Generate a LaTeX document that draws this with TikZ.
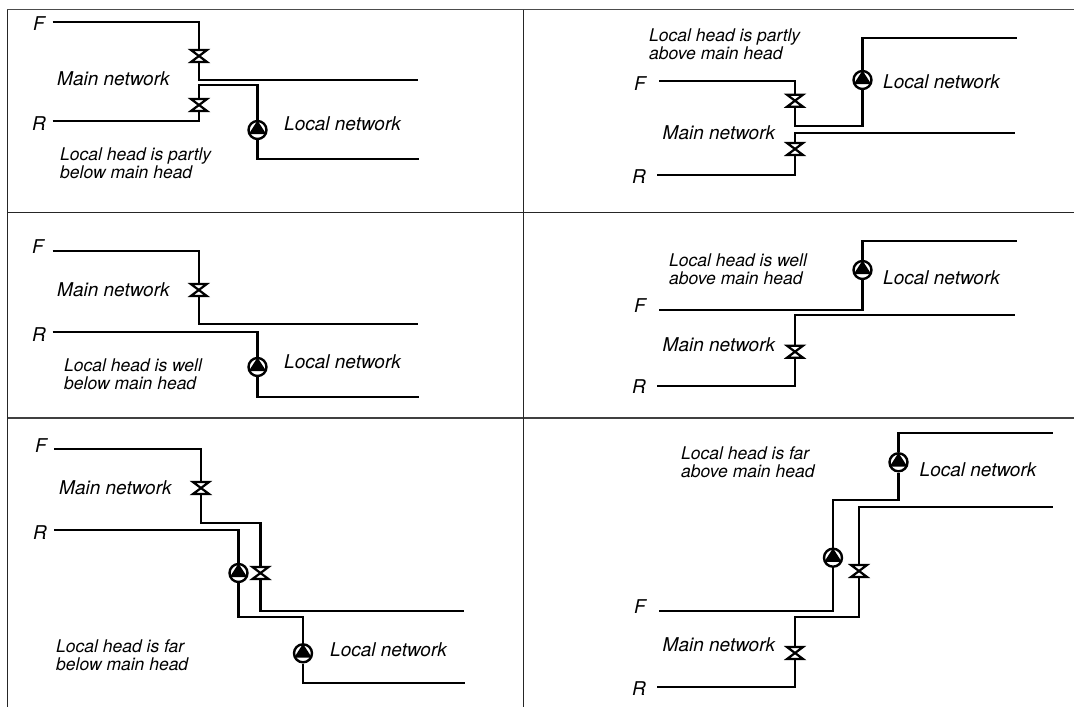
\documentclass[tikz,border=0pt]{standalone}
\usepackage{fontspec}
\setmainfont{TeX Gyre Heros}
\newcommand{\Pump}[2]{%
  \node[pumpnode] (#1) at (#2) {};
  \fill[black] ([yshift=9.5pt]#1.center) -- ([xshift=-8.8pt,yshift=-4.2pt]#1.center) -- ([xshift=8.8pt,yshift=-4.2pt]#1.center) -- cycle;
}
\newcommand{\Valve}[2]{%
  \node[valvenode] (#1) at (#2) {};
  \draw[valveline] (#1.north west) -- (#1.north east) -- (#1.south west) -- (#1.south east) -- cycle;
}
\tikzset{
  pipe/.style={line width=2.1pt,line join=miter,black},
  frameline/.style={line width=1pt,black!85},
  pumpnode/.style={circle,draw=black,fill=white,line width=2.4pt,minimum size=18pt,inner sep=0pt},
  valvenode/.style={rectangle,minimum width=15.5pt,minimum height=11.5pt,inner sep=0pt},
  valveline/.style={line width=2.2pt,line join=miter,fill=white,draw=black},
  big/.style={font=\fontsize{19}{19}\selectfont\itshape,anchor=base west,inner sep=0pt},
  note/.style={font=\fontsize{17.5}{18}\selectfont\itshape,anchor=south west,inner sep=0pt,align=left}
}
\begin{document}
\begin{tikzpicture}[x=1pt,y=-1pt]
\useasboundingbox (0,0) rectangle (1074,707);
% frame
\coordinate (tl) at (7,9.5); \coordinate (tr) at (1074,9.5);
\coordinate (al) at (7,212); \coordinate (ar) at (1074,212);
\coordinate (bl) at (7,418); \coordinate (br) at (1074,418);
\coordinate (lt) at (7,9.5); \coordinate (lb) at (7,707);
\coordinate (mt) at (523,9.5); \coordinate (mb) at (523,707);
\draw[line width=1.3pt,black!70] (tl) -- (tr);
\draw[frameline] (al) -- (ar);
\draw[line width=1.2pt,black!75] (bl) -- (br);
\draw[frameline] (lt) -- (lb);
\draw[frameline] (mt) -- (mb);

% Panel 1
\Valve{va}{199,56} \Valve{vb}{199,105} \Pump{pa}{257.5,130}
\coordinate (fa) at (52.5,22); \coordinate (ra) at (52.5,121);
\coordinate (fae) at (418,80); \coordinate (rae) at (419,159);
\coordinate (ka) at (199,85); \coordinate (kb) at (257.5,85);
\draw[pipe] (fa) -| (va.north);
\draw[pipe] (va.south) |- (fae);
\draw[pipe] (ra) -| (vb.south);
\draw[pipe] (vb.north) -- (ka) -- (kb) -- (pa.north);
\draw[pipe] (pa.south) |- (rae);
\node[big] (tfa) at (33,30) {F};
\node[big] (tra) at (32,130) {R};
\node[big] (tma) at (57,85) {Main network};
\node[big] (tla) at (284,130) {Local network};
\node[note] (tna) at (60,178.5) {Local head is partly\\below main head};

% Panel 2
\Valve{vc}{198.8,290} \Pump{pb}{257.5,367}
\coordinate (fb) at (52.5,250.7); \coordinate (rb) at (52.5,332);
\coordinate (fbe) at (418,324); \coordinate (rbe) at (419,397);
\draw[pipe] (fb) -| (vc.north);
\draw[pipe] (vc.south) |- (fbe);
\draw[pipe] (rb) -| (pb.north);
\draw[pipe] (pb.south) |- (rbe);
\node[big] (tfb) at (32,253.5) {F};
\node[big] (trb) at (32,341) {R};
\node[big] (tmb) at (57,296) {Main network};
\node[big] (tlb) at (284,368.5) {Local network};
\node[note] (tnb) at (64,389.5) {Local head is well\\below main head};

% Panel 3
\Valve{vd}{201,488} \Valve{ve}{260.5,573} \Pump{pc}{238.5,573} \Pump{pd}{303,653.3}
\coordinate (fc) at (54,449); \coordinate (rc) at (54,529.7);
\coordinate (fce) at (463.5,610.7); \coordinate (rce) at (465,683);
\coordinate (kc) at (201,522.7); \coordinate (kd) at (260.5,522.7);
\coordinate (ke) at (238.5,616.7); \coordinate (kf) at (303,616.7);
\draw[pipe] (fc) -| (vd.north);
\draw[pipe] (vd.south) -- (kc) -- (kd) -- (ve.north);
\draw[pipe] (ve.south) |- (fce);
\draw[pipe] (rc) -| (pc.north);
\draw[pipe] (pc.south) -- (ke) -- (kf) -- (pd.north);
\draw[pipe] (pd.south) |- (rce);
\node[big] (tfc) at (35,452) {F};
\node[big] (trc) at (33,539) {R};
\node[big] (tmc) at (59,494) {Main network};
\node[big] (tlc) at (330,656) {Local network};
\node[note] (tnc) at (56,670.5) {Local head is far\\below main head};

% Panel 4
\Valve{vf}{795,100.7} \Valve{vg}{795,149} \Pump{pe}{862.5,80}
\coordinate (fd) at (659,81); \coordinate (rd) at (657,174.7);
\coordinate (fde) at (1017,38.3); \coordinate (rde) at (1015,132.7);
\coordinate (kg) at (795,126.3); \coordinate (kh) at (862.5,126.3);
\draw[pipe] (fd) -| (vf.north);
\draw[pipe] (vf.south) -- (kg) -- (kh) -- (pe.south);
\draw[pipe] (pe.north) |- (fde);
\draw[pipe] (rd) -| (vg.south);
\draw[pipe] (vg.north) |- (rde);
\node[big] (tfd) at (634,90) {F};
\node[big] (trd) at (632,183) {R};
\node[big] (tmd) at (662.5,139) {Main network};
\node[big] (tld) at (883,88) {Local network};
\node[note] (tnd) at (649,59.5) {Local head is partly\\above main head};

% Panel 5
\Valve{vh}{795,351.7} \Pump{pf}{862.5,270}
\coordinate (fe) at (659,309.7); \coordinate (re) at (657,386);
\coordinate (fee) at (1017,241); \coordinate (ree) at (1015,315);
\draw[pipe] (fe) -| (pf.south);
\draw[pipe] (pf.north) |- (fee);
\draw[pipe] (re) -| (vh.south);
\draw[pipe] (vh.north) |- (ree);
\node[big] (tfe) at (634,312) {F};
\node[big] (tre) at (632,393.5) {R};
\node[big] (tme) at (662.5,351) {Main network};
\node[big] (tle) at (883,284) {Local network};
\node[note] (tne) at (669,284.5) {Local head is well\\above main head};

% Panel 6
\Valve{vi}{795,653} \Valve{vj}{859,571} \Pump{pg}{898.5,462.3} \Pump{ph}{833,557.7}
\coordinate (ff) at (659,611); \coordinate (rf) at (657,687.3);
\coordinate (ffe) at (1053,433); \coordinate (rfe) at (1053,506.7);
\coordinate (ki) at (898.5,500); \coordinate (kj) at (833,500);
\coordinate (kk) at (795,616.7); \coordinate (kl) at (859,616.7);
\draw[pipe] (ff) -| (ph.south);
\draw[pipe] (ph.north) -- (kj) -- (ki) -- (pg.south);
\draw[pipe] (pg.north) |- (ffe);
\draw[pipe] (rf) -| (vi.south);
\draw[pipe] (vi.north) -- (kk) -- (kl) -- (vj.south);
\draw[pipe] (vj.north) |- (rfe);
\node[big] (tff) at (634,613.5) {F};
\node[big] (trf) at (632,695) {R};
\node[big] (tmf) at (662.5,651.7) {Main network};
\node[big] (tlf) at (919.5,476) {Local network};
\node[note] (tnf) at (681,478) {Local head is far\\above main head};
\end{tikzpicture}
\end{document}
